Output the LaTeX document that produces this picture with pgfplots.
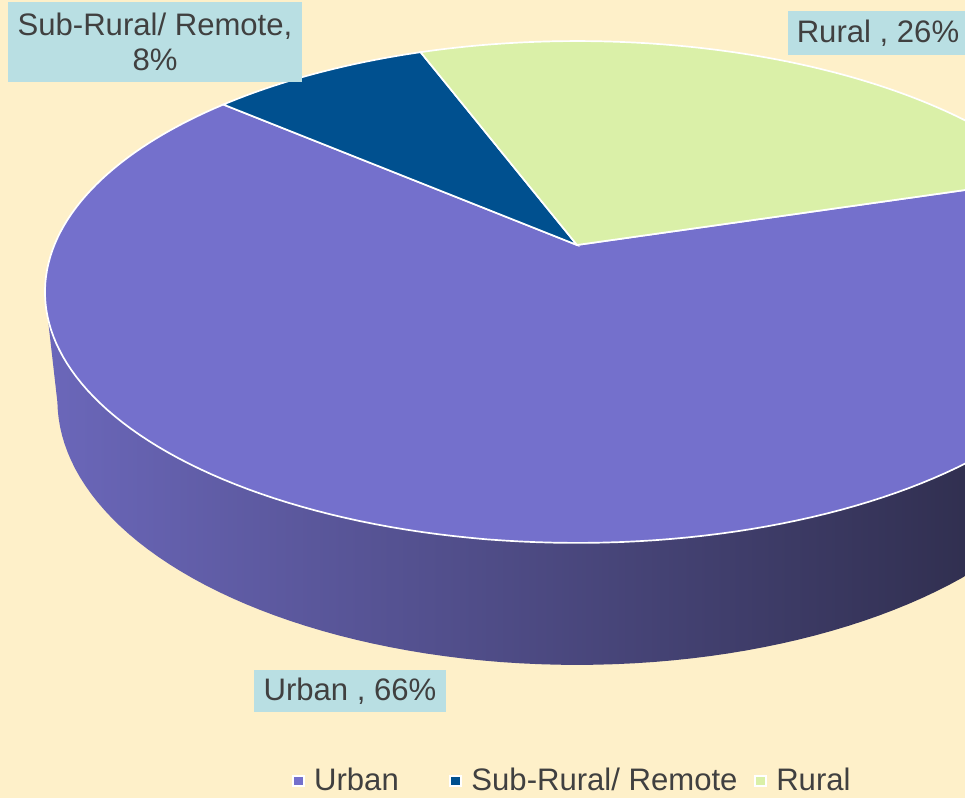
\documentclass[border=0pt]{standalone}
\usepackage{pgfplots}
\pgfplotsset{compat=1.18}
\usepackage{pgfplotstable}
\usepackage{fontspec}
\setmainfont{Liberation Sans}

\definecolor{bgc}{RGB}{254,240,201}
\definecolor{urban}{RGB}{116,112,204}
\definecolor{subrural}{RGB}{0,80,143}
\definecolor{rural}{RGB}{218,240,168}
\definecolor{wallL}{RGB}{107,103,186}
\definecolor{wallM}{RGB}{72,69,128}
\definecolor{wallR}{RGB}{40,39,64}
\definecolor{boxc}{RGB}{185,223,227}
\definecolor{txt}{RGB}{64,64,64}

% shares of the pie, in percent
\pgfplotstableread{
name     share
Urban    66
SubRural 8
Rural    26
}\slices

\begin{document}
\begin{tikzpicture}[
	declare function={
		rx(\p,\d) = 577 + 2472*cos(\p)/(4.730 + 0.4633*\d + 0.886*sin(\p));
		ry(\p,\d) = 245 - 2472*(0.4633*sin(\p) - 0.886*\d)/(4.730 + 0.4633*\d + 0.886*sin(\p));
		wp(\t) = ifthenelse(\t<=1, -169 + 158*\t, -11 - 158*(\t-1));
		wd(\t) = ifthenelse(\t<=1, 0, 0.235);
	},
	lbl/.style={fill=boxc, text=txt, font=\fontsize{11}{12.4}\selectfont, align=center, inner ysep=0pt},
]
\pgfplotstablegetelem{0}{share}\of\slices \let\pU\pgfplotsretval
\pgfplotstablegetelem{1}{share}\of\slices \let\pS\pgfplotsretval
\pgfplotstablegetelem{2}{share}\of\slices \let\pR\pgfplotsretval
% slices run clockwise from the start angle
\pgfmathsetmacro{\aA}{17}
\pgfmathsetmacro{\aB}{\aA-3.6*\pU}
\pgfmathsetmacro{\aC}{\aB-3.6*\pS}
\pgfmathsetmacro{\aD}{\aC-3.6*\pR}
\path[use as bounding box, clip] (0,0) rectangle (12cm,9.923cm);
\fill[bgc] (0,0) rectangle (12cm,9.923cm);
\begin{axis}[
	at={(0,0)}, anchor=south west,
	width=12cm, height=9.923cm, scale only axis,
	xmin=0, xmax=965, ymin=0, ymax=798, y dir=reverse,
	hide axis, clip=true,
	legend style={at={(axis cs:289,781)}, anchor=west, draw=none, fill=none, inner sep=0pt,
		legend columns=3, font=\fontsize{11}{13}\selectfont, text=txt,
		nodes={inner sep=1pt},
		/tikz/column 2/.style={column sep=16pt},
		/tikz/column 4/.style={column sep=4pt}},
	legend image code/.code={\draw[#1, draw=white, line width=0.7pt] (1pt,-1.9pt) rectangle (4.8pt,1.9pt); \path (0pt,0pt) (7.3pt,0pt);},
]
% side wall
\addplot[forget plot, draw=none, left color=wallL, middle color=wallM, right color=wallR,
	domain=0:2, samples=181, variable=\t]
	({rx(wp(\t),wd(\t))}, {ry(wp(\t),wd(\t))}) -- cycle;
% top face
\addplot[forget plot, fill=urban, draw=white, line width=0.6pt, domain=\aB:\aA, samples=160, variable=\t]
	({rx(\t,0)}, {ry(\t,0)}) -- (577,245) -- cycle;
\addplot[forget plot, fill=subrural, draw=white, line width=0.6pt, domain=\aC:\aB, samples=30, variable=\t]
	({rx(\t,0)}, {ry(\t,0)}) -- (577,245) -- cycle;
\addplot[forget plot, fill=rural, draw=white, line width=0.6pt, domain=\aD:\aC, samples=80, variable=\t]
	({rx(\t,0)}, {ry(\t,0)}) -- (577,245) -- cycle;

\addlegendimage{fill=urban}\addlegendentry{Urban}
\addlegendimage{fill=subrural}\addlegendentry{Sub-Rural/ Remote}
\addlegendimage{fill=rural}\addlegendentry{Rural}

\node[lbl, minimum width=104pt, minimum height=28.3pt] at (155,42) {Sub-Rural/ Remote,\\8\%};
\node[lbl, inner xsep=3.2pt, minimum height=15.9pt] at (878,33) {Rural , 26\%};
\node[lbl, inner xsep=3.4pt, minimum height=14.9pt] at (350,691) {Urban , 66\%};
\end{axis}
\end{tikzpicture}
\end{document}
